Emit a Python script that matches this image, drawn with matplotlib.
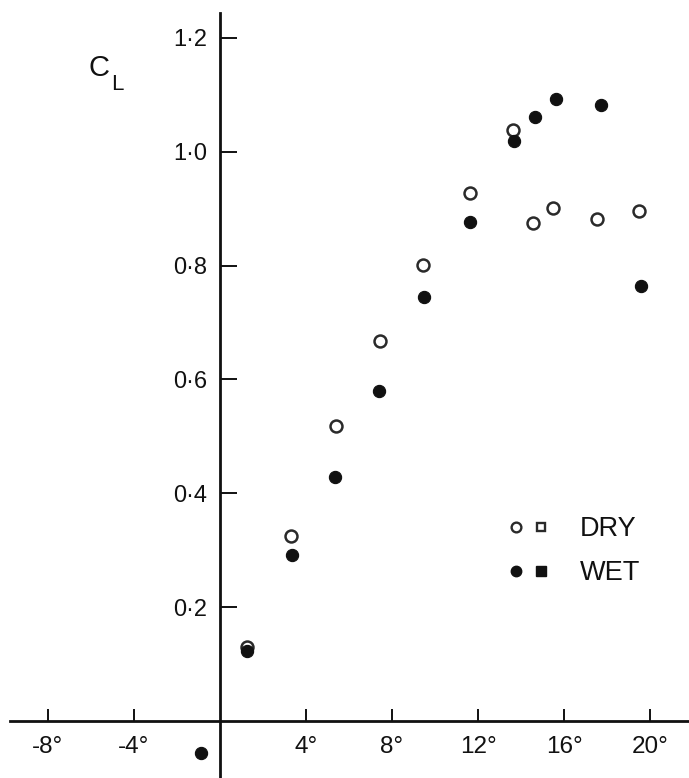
import matplotlib
matplotlib.use("Agg")
import matplotlib.pyplot as plt
from matplotlib.lines import Line2D
from matplotlib.legend_handler import HandlerTuple

plt.rcParams['font.family'] = ['Liberation Sans', 'DejaVu Sans']

# angle of attack (deg) and lift coefficient
alpha_dry = [1.27, 3.30, 5.38, 7.44, 9.46, 11.63, 13.64, 14.54, 15.50, 17.53, 19.50]
cl_dry = [0.131, 0.325, 0.518, 0.668, 0.801, 0.927, 1.038, 0.875, 0.901, 0.882, 0.895]

alpha_wet = [-0.90, 1.27, 3.33, 5.35, 7.41, 9.49, 11.63, 13.67, 14.65, 15.63, 17.71, 19.57]
cl_wet = [-0.055, 0.124, 0.291, 0.429, 0.580, 0.745, 0.877, 1.019, 1.060, 1.092, 1.082, 0.764]

x_ticks = [-8, -4, 4, 8, 12, 16, 20]
x_labels = ['-8°', '-4°', '4°', '8°', '12°', '16°', '20°']
y_ticks = [0.2, 0.4, 0.6, 0.8, 1.0, 1.2]
y_labels = ['0·2', '0·4', '0·6', '0·8', '1·0', '1·2']

ink = '#111111'

fig = plt.figure(figsize=(6.89, 7.78), dpi=100)
ax = fig.add_axes([0, 0, 1, 1])

ax.plot(alpha_dry, cl_dry, 'o', ms=8.6, mfc='white', mec='#2a2a2a', mew=1.8, zorder=3)
ax.plot(alpha_wet, cl_wet, 'o', ms=8.8, mfc=ink, mec=ink, mew=0.8, zorder=4)

ax.set_xlim(-10.23, 21.81)
ax.set_ylim(-0.0997, 1.2662)

for s in ['top', 'right']:
    ax.spines[s].set_visible(False)
ax.spines['left'].set_position(('data', 0))
ax.spines['bottom'].set_position(('data', 0))
ax.spines['left'].set_bounds(-0.0997, 1.243)
ax.spines['bottom'].set_bounds(-9.77, 21.81)
for s in ['left', 'bottom']:
    ax.spines[s].set_linewidth(2.0)
    ax.spines[s].set_color(ink)

ax.set_xticks(x_ticks)
ax.set_xticklabels(x_labels)
ax.set_yticks(y_ticks)
ax.set_yticklabels(y_labels)
ax.tick_params(axis='x', direction='in', length=8.6, width=1.4, pad=11,
               labelsize=17.5, colors=ink)
ax.tick_params(axis='y', direction='in', length=12, width=1.4, pad=9,
               labelsize=17, colors=ink)

fig.text(99 / 689, 1 - 68 / 778, 'C', fontsize=21, color=ink, ha='center', va='center')
fig.text(117 / 689, 1 - 85 / 778, 'L', fontsize=16, color=ink, ha='center', va='center')

dry_c = Line2D([], [], ls='none', marker='o', ms=7, mfc='white', mec='#2a2a2a', mew=1.7)
dry_s = Line2D([], [], ls='none', marker='s', ms=6, mfc='white', mec='#2a2a2a', mew=1.7)
wet_c = Line2D([], [], ls='none', marker='o', ms=7.5, mfc=ink, mec=ink)
wet_s = Line2D([], [], ls='none', marker='s', ms=6.5, mfc=ink, mec=ink)
ax.legend([(dry_c, dry_s), (wet_c, wet_s)], ['DRY', 'WET'],
          handler_map={tuple: HandlerTuple(ndivide=None, pad=0)},
          loc='upper left', bbox_to_anchor=(503 / 689, 1 - 516 / 778),
          bbox_transform=fig.transFigure, frameon=False, fontsize=19.5,
          handlelength=1.85, handletextpad=1.0, labelspacing=0.68,
          borderpad=0, borderaxespad=0, labelcolor=ink)

fig.savefig('out.png', dpi=100)
